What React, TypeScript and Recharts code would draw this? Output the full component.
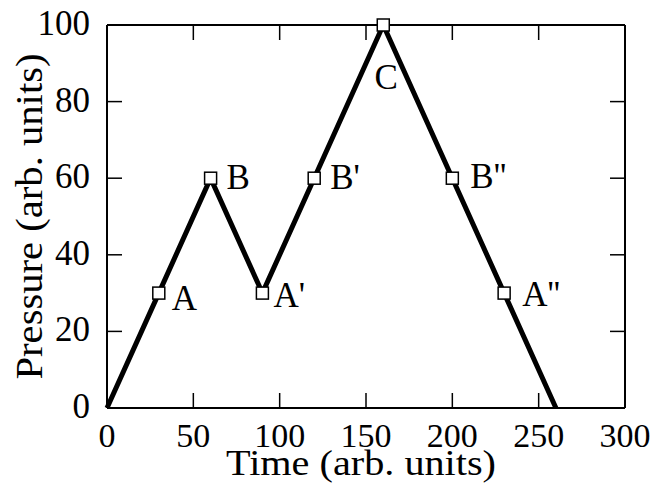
import { LineChart, Line, XAxis, YAxis } from "recharts";

// pressure cycle: loading ramps with labelled sample points
const times = [0, 30, 60, 90, 120, 160, 200, 230, 260];
const pressures = [0, 30, 60, 30, 60, 100, 60, 30, 0];
const pointLabels = ["", "A", "B", "A'", "B'", "C", "B''", "A''", ""];

const timeTicks = [0, 50, 100, 150, 200, 250, 300];
const pressureTicks = [0, 20, 40, 60, 80, 100];

const data = times.map((t, i) => ({
  t,
  p: pressures[i],
  label: pointLabels[i],
}));

const FONT = "'Liberation Serif', 'Times New Roman', serif";
const TICK_LEN = 15;

// where each point label sits relative to its marker: [dx, dy, anchor]
const labelOffset: Record<string, [number, number, "start" | "middle"]> = {
  A: [13, 17, "start"],
  B: [16, 11, "start"],
  "A'": [11, 14, "start"],
  "B'": [16, 11, "start"],
  C: [3, 64, "middle"],
  "B''": [18, 10, "start"],
  "A''": [18, 13, "start"],
};

function BottomTick({ x, y, payload }: any) {
  return (
    <g>
      <line x1={x} y1={y} x2={x} y2={y - TICK_LEN} stroke="#000" strokeWidth={1.5} />
      <text x={x} y={y + 39} textAnchor="middle" fontFamily={FONT} fontSize={34} fill="#000">
        {payload.value}
      </text>
    </g>
  );
}

function LeftTick({ x, y, payload }: any) {
  return (
    <g>
      <line x1={x} y1={y} x2={x + TICK_LEN} y2={y} stroke="#000" strokeWidth={1.5} />
      <text x={x - 17} y={y + 10} textAnchor="end" fontFamily={FONT} fontSize={35} fill="#000">
        {payload.value}
      </text>
    </g>
  );
}

function TopTick({ x, y }: any) {
  return <line x1={x} y1={y} x2={x} y2={y + TICK_LEN} stroke="#000" strokeWidth={1.5} />;
}

function RightTick({ x, y }: any) {
  return <line x1={x} y1={y} x2={x - TICK_LEN} y2={y} stroke="#000" strokeWidth={1.5} />;
}

// the titles are set in a slightly wide serif, so stretch them to length
function XTitle({ viewBox }: any) {
  return (
    <text
      x={viewBox.x + viewBox.width / 2 - 5}
      y={viewBox.y + 67}
      textAnchor="middle"
      fontFamily={FONT}
      fontSize={35}
      textLength={270}
      lengthAdjust="spacingAndGlyphs"
      fill="#000"
    >
      Time (arb. units)
    </text>
  );
}

function YTitle({ viewBox }: any) {
  const cx = viewBox.x + viewBox.width - 65;
  const cy = viewBox.y + viewBox.height / 2;
  return (
    <text
      x={cx}
      y={cy}
      transform={`rotate(-90, ${cx}, ${cy})`}
      textAnchor="middle"
      fontFamily={FONT}
      fontSize={38}
      textLength={326}
      lengthAdjust="spacingAndGlyphs"
      fill="#000"
    >
      Pressure (arb. units)
    </text>
  );
}

function SquareDot(props: any) {
  const { cx, cy, payload, index } = props;
  if (!payload.label) return <g key={`dot-${index}`} />;
  const [dx, dy, anchor] = labelOffset[payload.label];
  return (
    <g key={`dot-${index}`}>
      <rect x={cx - 6} y={cy - 6} width={12} height={12} fill="#fff" stroke="#000" strokeWidth={1.5} />
      <text
        x={cx + dx}
        y={cy + dy}
        textAnchor={anchor}
        fontFamily={FONT}
        fontSize={35}
        fill="#000"
      >
        {payload.label}
      </text>
    </g>
  );
}

const axisLine = { stroke: "#000", strokeWidth: 2 };

export default function App() {
  return (
    <div style={{ position: "absolute", left: 0, top: 0, background: "#fff" }}>
      <LineChart
        width={667}
        height={488}
        data={data}
        margin={{ top: 24, right: 41, bottom: 79, left: 106 }}
      >
        <XAxis
          dataKey="t"
          type="number"
          domain={[0, 300]}
          ticks={timeTicks}
          interval={0}
          height={1}
          tickSize={0}
          tickMargin={0}
          tickLine={false}
          axisLine={axisLine}
          tick={<BottomTick />}
          label={<XTitle />}
        />
        <XAxis
          xAxisId="top"
          orientation="top"
          dataKey="t"
          type="number"
          domain={[0, 300]}
          ticks={timeTicks}
          interval={0}
          height={1}
          tickSize={0}
          tickMargin={0}
          tickLine={false}
          axisLine={axisLine}
          tick={<TopTick />}
        />
        <YAxis
          dataKey="p"
          type="number"
          domain={[0, 100]}
          ticks={pressureTicks}
          interval={0}
          width={1}
          tickSize={0}
          tickMargin={0}
          tickLine={false}
          axisLine={axisLine}
          tick={<LeftTick />}
          label={<YTitle />}
        />
        <YAxis
          yAxisId="right"
          orientation="right"
          dataKey="p"
          type="number"
          domain={[0, 100]}
          ticks={pressureTicks}
          interval={0}
          width={1}
          tickSize={0}
          tickMargin={0}
          tickLine={false}
          axisLine={axisLine}
          tick={<RightTick />}
        />
        <Line
          dataKey="p"
          stroke="#000"
          strokeWidth={5}
          strokeLinejoin="miter"
          dot={SquareDot}
          activeDot={false}
          isAnimationActive={false}
        />
        <Line
          xAxisId="top"
          yAxisId="right"
          dataKey="p"
          stroke="none"
          dot={false}
          activeDot={false}
          legendType="none"
          isAnimationActive={false}
        />
      </LineChart>
    </div>
  );
}
